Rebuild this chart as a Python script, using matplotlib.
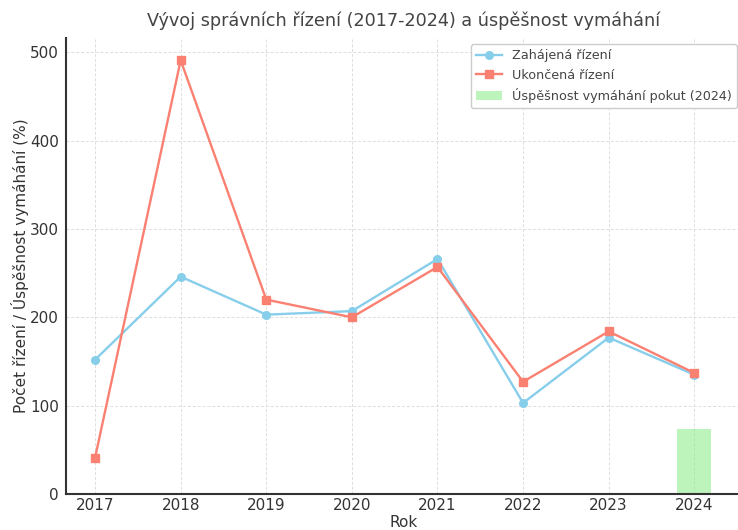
import matplotlib
matplotlib.use("Agg")
import matplotlib.pyplot as plt

years = [2017, 2018, 2019, 2020, 2021, 2022, 2023, 2024]
zahajena = [152, 246, 203, 207, 266, 103, 177, 135]
ukoncena = [41, 491, 220, 200, 257, 127, 184, 137]
bar_year = [2024]
uspesnost = [74]

fig = plt.figure(figsize=(7.38, 5.30), dpi=100)
ax = fig.add_axes([0.0894, 0.068, 0.914, 0.86])

ax.bar(bar_year, uspesnost, width=0.4, color='lightgreen', alpha=0.6,
       label='Úspěšnost vymáhání pokut (2024)', zorder=2)
ax.plot(years, zahajena, marker='o', color='skyblue', linewidth=1.7, markersize=5.5,
        label='Zahájená řízení', zorder=3)
ax.plot(years, ukoncena, marker='s', color='salmon', linewidth=1.7, markersize=5.5,
        label='Ukončená řízení', zorder=4)

ax.set_xlim(2016.66, 2024.54)
ax.set_ylim(0, 516)
ax.set_xticks(years)
ax.set_yticks([0, 100, 200, 300, 400, 500])
ax.grid(True, linestyle=(0, (3, 2)), color='#dddddd', linewidth=0.7, zorder=0)
ax.set_axisbelow(True)
for s in ['top', 'right']:
    ax.spines[s].set_visible(False)
for s in ['left', 'bottom']:
    ax.spines[s].set_color('#333333')
    ax.spines[s].set_linewidth(1.5)
ax.tick_params(axis='x', colors='#333333', labelsize=11, length=0, pad=3)
ax.tick_params(axis='y', colors='#333333', labelsize=11, length=0, pad=5)

ax.set_title('Vývoj správních řízení (2017-2024) a úspěšnost vymáhání',
             fontsize=12.7, color='#444444', pad=9)
ax.set_xlabel('Rok', fontsize=11, color='#333333', labelpad=1)
ax.set_ylabel('Počet řízení / Úspěšnost vymáhání (%)', fontsize=11, color='#333333',
              labelpad=1)

leg = ax.legend(loc='upper right', fontsize=9.2, framealpha=1, edgecolor='#cccccc',
                bbox_to_anchor=(1.0, 0.995), borderaxespad=0.3)
for t in leg.get_texts():
    t.set_color('#444444')

fig.savefig('out.png', dpi=100)
